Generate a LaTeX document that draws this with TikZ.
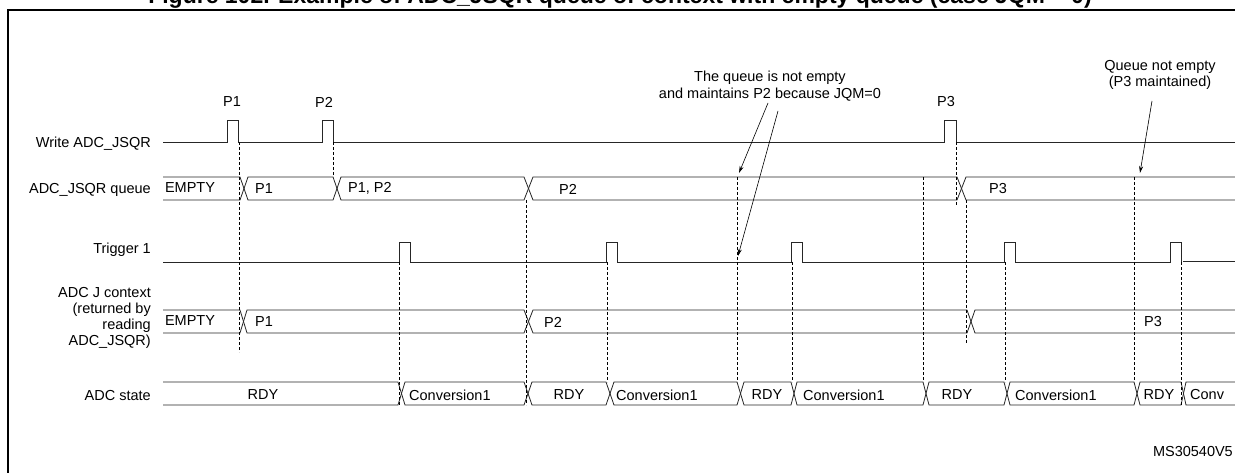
\documentclass[tikz,border=0pt]{standalone}
\usepackage{fontspec}
\setmainfont{Liberation Sans}
\usetikzlibrary{arrows.meta}
\newcommand{\hexseg}[6]{%
  \draw[sig] ({(#1+#2)/2},{(#5+#6)/2}) -- (#2,#5) -- (#3,#5) -- ({(#3+#4)/2},{(#5+#6)/2}) -- (#3,#6) -- (#2,#6) -- cycle;}
\newcommand{\firstseg}[4]{%
  \draw[sig] (163,#3) -- (#1,#3) -- ({(#1+#2)/2},{(#3+#4)/2}) -- (#1,#4) -- (163,#4);}
\newcommand{\lastseg}[4]{%
  \draw[sig] (1235,#3) -- (#2,#3) -- ({(#1+#2)/2},{(#3+#4)/2}) -- (#2,#4) -- (1235,#4);}
\begin{document}
\begin{tikzpicture}[x=1pt,y=-1pt,
  sig/.style={line width=0.8pt,black!85},
  dsh/.style={line width=0.6pt,dash pattern=on 3pt off 2pt},
  lbl/.style={font=\fontsize{14.5}{16.5}\selectfont,inner sep=0pt},
  rlbl/.style={lbl,anchor=east,align=right},
  arr/.style={line width=0.6pt,-{Stealth[length=7pt,width=4pt]}}]
\useasboundingbox (0,0) rectangle (1235,473);
% title (cut at top)
\node[font=\bfseries\fontsize{23}{25}\selectfont,anchor=base] (title) at (620,4) {Figure 102. Example of ADC\_JSQR queue of context with empty queue (case JQM = 0)};
% frame
\draw[line width=1.6pt] (8,480) -- (8,10) -- (1240,10);
% row labels
\node[rlbl] (l1) at (151,144) {Write ADC\_JSQR};
\node[rlbl] (l2) at (151,190) {ADC\_JSQR queue};
\node[rlbl] (l3) at (151,250) {Trigger 1};
\node[rlbl,font=\fontsize{14.5}{16}\selectfont] (l4) at (151,318) {ADC J context\\(returned by\\reading\\ADC\_JSQR)};
\node[rlbl] (l5) at (151,396) {ADC state};
% write signal
\draw[sig] (163,142) -- (227,142) -- (227,120) -- (238,120) -- (238,142) -- (322,142) -- (322,120) -- (333,120) -- (333,142) -- (944,142) -- (944,120) -- (956,120) -- (956,142) -- (1235,142);
\node[lbl] (p1) at (232,102) {P1};
\node[lbl] (p2) at (324,102) {P2};
\node[lbl] (p3) at (946,102) {P3};
% queue bus
\firstseg{240}{248}{177}{200}
\hexseg{240}{248}{333}{341}{177}{200}
\hexseg{333}{341}{524}{533}{177}{200}
\hexseg{524}{533}{957}{966}{177}{200}
\lastseg{957}{966}{177}{200}
\node[lbl] at (190,188) {EMPTY};
\node[lbl] at (264,189) {P1};
\node[lbl,anchor=west] at (348,188) {P1, P2};
\node[lbl] at (568,189) {P2};
\node[lbl] at (998,189) {P3};
% trigger
\draw[sig] (163,262) -- (399,262) -- (399,242) -- (410,242) -- (410,262) -- (606,262) -- (606,242) -- (617,242) -- (617,262) -- (791,262) -- (791,242) -- (802,242) -- (802,262) -- (1004,262) -- (1004,242) -- (1015,242) -- (1015,262) -- (1170,262) -- (1170,242) -- (1181,242) -- (1181,262);
\draw[sig] (1183,261) -- (1235,261);
% context bus
\firstseg{240}{247}{310}{333}
\hexseg{240}{247}{524}{533}{310}{333}
\hexseg{524}{533}{967}{975}{310}{333}
\lastseg{967}{975}{310}{333}
\node[lbl] at (190,321) {EMPTY};
\node[lbl] at (264,322) {P1};
\node[lbl] at (553,322) {P2};
\node[lbl] at (1153,322) {P3};
% state bus
\firstseg{398}{405}{382}{405}
\hexseg{398}{405}{524}{532}{382}{405}
\hexseg{524}{532}{606}{614}{382}{405}
\hexseg{606}{614}{737}{744}{382}{405}
\hexseg{737}{744}{791}{797}{382}{405}
\hexseg{791}{797}{923}{929}{382}{405}
\hexseg{923}{929}{1004}{1010}{382}{405}
\hexseg{1004}{1010}{1134}{1140}{382}{405}
\hexseg{1134}{1140}{1181}{1186}{382}{405}
\lastseg{1181}{1186}{382}{405}
\node[lbl] at (263,395) {RDY};
\node[lbl,anchor=west] at (409,395) {Conversion1};
\node[lbl] at (569,395) {RDY};
\node[lbl,anchor=west] at (616,395) {Conversion1};
\node[lbl] at (767,395) {RDY};
\node[lbl,anchor=west] at (803,395) {Conversion1};
\node[lbl] at (957,395) {RDY};
\node[lbl,anchor=west] at (1015,395) {Conversion1};
\node[lbl] at (1159,395) {RDY};
\node[lbl,anchor=west] at (1190,395) {Conv};
% dashed lines
\draw[dsh] (239,142) -- (239,352);
\draw[dsh] (333,142) -- (333,177);
\draw[dsh] (526,200) -- (526,405);
\draw[dsh] (399,262) -- (399,405);
\draw[dsh] (607,262) -- (607,382);
\draw[dsh] (737,177) -- (737,382);
\draw[dsh] (792,262) -- (792,382);
\draw[dsh] (923,177) -- (923,382);
\draw[dsh] (956,142) -- (956,205);
\draw[dsh] (966,200) -- (966,343);
\draw[dsh] (1005,262) -- (1005,382);
\draw[dsh] (1134,177) -- (1134,382);
\draw[dsh] (1181,262) -- (1181,405);
% annotations
\node[lbl,align=center] (n1) at (770,86) {The queue is not empty\\and maintains P2 because JQM=0};
\coordinate (a1) at (739,173);
\coordinate (a2) at (738,256);
\draw[arr] (768,103) -- (a1);
\draw[arr] (778,111) -- (a2);
\node[lbl,align=center] (n2) at (1160,75) {Queue not empty\\(P3 maintained)};
\coordinate (a3) at (1140,173);
\draw[arr] (1152,101) -- (a3);
\node[lbl,anchor=east] (ms) at (1233,452) {MS30540V5};
\end{tikzpicture}
\end{document}
